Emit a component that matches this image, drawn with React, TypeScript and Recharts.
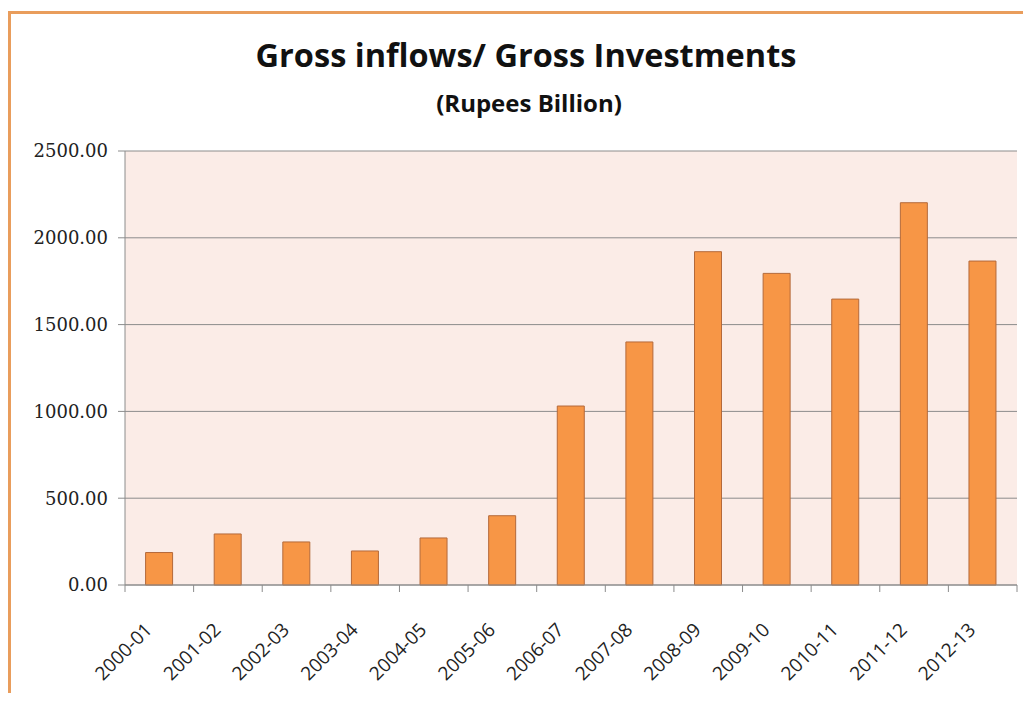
import React from "react";
import { BarChart, Bar, XAxis, YAxis, CartesianGrid } from "recharts";

const years = [
  "2000-01", "2001-02", "2002-03", "2003-04", "2004-05", "2005-06", "2006-07",
  "2007-08", "2008-09", "2009-10", "2010-11", "2011-12", "2012-13"
];
const inflows = [187, 294, 248, 196, 271, 399, 1031, 1400, 1920, 1795, 1647, 2202, 1866];
const yTicks = [0, 500, 1000, 1500, 2000, 2500];

const rows = years.map((year, i) => ({ year, value: inflows[i] }));

const AngledTick = (props: any) => {
  const { x, y, payload, index } = props;
  const half = payload.offset || 0;
  const ax = x - 6;
  const ay = y + 46;
  return (
    <g>
      <line x1={x - half} y1={y} x2={x - half} y2={y + 7} stroke="#8C8C8C" />
      {index === years.length - 1 && (
        <line x1={x + half} y1={y} x2={x + half} y2={y + 7} stroke="#8C8C8C" />
      )}
      <text
        x={ax}
        y={ay}
        transform={`rotate(-45, ${ax}, ${ay})`}
        textAnchor="end"
        fontFamily="Open Sans"
        fontSize={19}
        fill="#222"
      >
        {payload.value}
      </text>
    </g>
  );
};

const App = () => (
  <div style={{ position: "relative", width: 1023, height: 685, overflow: "hidden", background: "#fff" }}>
    <div
      style={{
        position: "absolute",
        left: 0,
        top: 3,
        width: 1100,
        height: 800,
        border: "3px solid #E99D5C",
        boxSizing: "border-box"
      }}
    />
    <div
      style={{
        position: "absolute",
        left: 0,
        width: 1036,
        top: 30,
        textAlign: "center",
        fontFamily: "Open Sans",
        fontWeight: 700,
        fontSize: 32.5,
        lineHeight: "33px",
        color: "#111"
      }}
    >
      Gross inflows/ Gross Investments
    </div>
    <div
      style={{
        position: "absolute",
        left: 0,
        width: 1042,
        top: 83,
        textAlign: "center",
        fontFamily: "Open Sans",
        fontWeight: 700,
        fontSize: 24,
        lineHeight: "24px",
        color: "#111"
      }}
    >
      (Rupees Billion)
    </div>
    <div style={{ position: "absolute", left: 0, top: 0 }}>
      <BarChart
        width={1023}
        height={685}
        data={rows}
        margin={{ top: 143, right: 14, bottom: 0, left: 0 }}
        barCategoryGap="30%"
      >
        <CartesianGrid vertical={false} fill="#FBECE7" stroke="#8C8C8C" />
        <XAxis
          dataKey="year"
          interval={0}
          stroke="#8C8C8C"
          tickLine={false}
          tickSize={0}
          tickMargin={0}
          height={108}
          tick={<AngledTick />}
        />
        <YAxis
          domain={[0, 2500]}
          ticks={yTicks}
          tickFormatter={(v: number) => v.toFixed(2)}
          width={117}
          tickSize={7}
          tickMargin={10}
          stroke="#8C8C8C"
          tick={{ fill: "#222", fontFamily: "DejaVu Serif", fontSize: 18 }}
        />
        <Bar
          dataKey="value"
          fill="#F79646"
          stroke="#B4693A"
          strokeWidth={1}
          isAnimationActive={false}
        />
      </BarChart>
    </div>
  </div>
);

export default App;
